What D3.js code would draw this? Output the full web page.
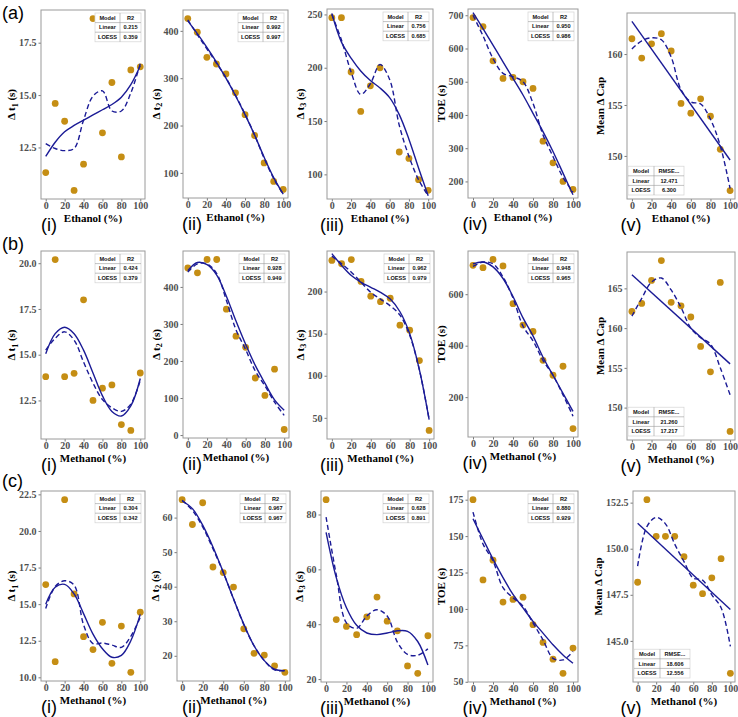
<!DOCTYPE html>
<html>
<head>
<meta charset="utf-8">
<script src="https://cdn.jsdelivr.net/npm/d3@7"></script>
<style>
  body { margin: 0; background: #fff; }
</style>
</head>
<body>
<div id="chart"></div>
<script>
// solvent share on the x axis, same for every panel
const pct = [0, 10, 20, 30, 40, 50, 60, 70, 80, 90, 100];
const xTicks = [0, 20, 40, 60, 80, 100];

// row (a): ethanol. one inner array per panel (i)..(v)
const ethPoints = [
  [11.3, 14.6, 13.75, 10.45, 11.7, 18.65, 13.2, 15.6, 12.05, 16.2, 16.35],
  [426, 397, 344, 330, 309, 269, 223, 179, 121, 82, 65],
  [247, 247, 196, 159, 183, 200, 234, 121, 115, 95, 85],
  [693, 666, 563, 510, 513, 500, 480, 321, 256, 200, 176],
  [161.5, 159.6, 161.0, 162.0, 160.3, 155.15, 154.2, 155.6, 153.9, 150.65, 146.6]
];
const ethFit = [
  [12.07, 12.75, 13.25, 13.55, 13.8, 14.05, 14.3, 14.55, 14.9, 15.5, 16.4],
  [421, 394, 365, 334, 300, 263, 223, 180, 133, 90, 55],
  [251, 224, 209, 197, 188, 181, 172, 156, 133, 106, 80],
  [708, 660, 610, 560, 510, 460, 405, 350, 290, 225, 160],
  [163.2, 149.6]
];
const ethLoess = [
  [12.68, 12.45, 12.35, 12.45, 13.8, 14.95, 15.2, 14.24, 14.24, 15.1, 16.5],
  [423, 392, 362, 332, 301, 264, 224, 180, 131, 88, 55],
  [250, 226, 196, 175, 185, 203, 189, 146, 117, 95, 80],
  [700, 638, 570, 525, 515, 500, 435, 340, 275, 212, 168],
  [160.5, 161.3, 161.6, 161.4, 159.7, 156.5, 155.3, 155.1, 153.6, 151, 146.8]
];
const ethTicks = [
  ['12.5', '15.0', '17.5'],
  ['100', '200', '300', '400'],
  ['100', '150', '200', '250'],
  ['200', '300', '400', '500', '600', '700'],
  ['150', '155', '160']
];
const ethStats = [
  ['0.215', '0.359'], ['0.992', '0.997'], ['0.756', '0.685'], ['0.950', '0.986'], ['12.471', '6.300']
];

// row (b): methanol
const methBPoints = [
  [13.8, 20.2, 13.8, 13.98, 18.0, 12.5, 13.17, 13.35, 11.18, 10.86, 14.0],
  [451, 438, 474, 474, 340, 267, 237, 154, 107, 178, 15],
  [237, 233, 238, 212, 194.5, 188, 192, 160, 154, 118, 35],
  [712, 703, 735, 710, 563, 480, 455, 343, 285, 320, 78],
  [162.1, 163.1, 166.0, 168.5, 163.25, 162.8, 161.4, 157.7, 154.5, 165.75, 147.0]
];
const methBFit = [
  [15.05, 16.15, 16.5, 16.15, 15.25, 14.0, 12.75, 11.9, 11.65, 12.2, 13.7],
  [444, 466, 460, 432, 375, 308, 245, 188, 140, 95, 67],
  [245, 231, 219, 211, 205, 199, 191, 176, 150, 107, 48],
  [718, 725, 706, 661, 591, 508, 438, 355, 285, 215, 145],
  [166.7, 155.5]
];
const methBLoess = [
  [15.25, 15.9, 16.25, 15.8, 14.6, 13.45, 12.55, 12.1, 11.9, 12.3, 13.6],
  [440, 462, 462, 436, 364, 284, 231, 173, 133, 89, 53],
  [242, 233, 223, 211, 199, 191, 183, 172, 148, 107, 48],
  [708, 725, 718, 667, 585, 476, 419, 343, 285, 209, 126],
  [161.5, 163.75, 165.8, 166.3, 164.8, 162.6, 160.0, 158.8, 158.0, 155.0, 151.6]
];
const methBTicks = [
  ['12.5', '15.0', '17.5', '20.0'],
  ['0', '100', '200', '300', '400'],
  ['50', '100', '150', '200'],
  ['200', '400', '600'],
  ['150', '155', '160', '165']
];
const methBStats = [
  ['0.424', '0.379'], ['0.928', '0.949'], ['0.962', '0.979'], ['0.948', '0.965'], ['21.260', '17.217']
];

// row (c): methanol
const methCPoints = [
  [16.34, 11.07, 22.14, 15.7, 12.78, 11.9, 13.76, 10.96, 13.5, 10.34, 14.45],
  [65.2, 58.0, 64.3, 45.7, 44.1, 39.9, 27.8, 20.7, 20.2, 17.1, 15.2],
  [85.4, 41.7, 39.2, 36.2, 42.7, 49.9, 41.1, 37.6, 24.8, 22.1, 35.8],
  [175, 119.9, 133.5, 104.7, 106.5, 108.1, 89.2, 77.0, 65.5, 55.8, 73.1],
  [148.18, 152.66, 150.67, 150.67, 150.67, 149.57, 148.02, 147.56, 148.42, 149.46, 143.24]
];
const methCFit = [
  [15.0, 16.15, 16.35, 15.7, 14.35, 12.95, 11.95, 11.37, 11.5, 12.5, 14.3],
  [64.8, 62.6, 57.8, 51.5, 44.2, 36.5, 29.2, 22.9, 18.6, 16.1, 15.7],
  [73.5, 57, 46, 39.6, 36.8, 36.2, 36.8, 37.6, 37.4, 33.7, 25.1],
  [161.9, 148, 134.2, 121.5, 110, 100.7, 91.5, 83.4, 75.4, 68.4, 62.7],
  [151.38, 146.7]
];
const methCLoess = [
  [14.7, 16.2, 16.6, 16.3, 13.6, 12.3, 12.35, 12.2, 12.05, 12.8, 14.1],
  [65, 62.1, 57.3, 51, 44.2, 36.5, 29, 22.9, 18.6, 15.9, 15.7],
  [79, 58, 40.5, 38.5, 43, 45.3, 43, 33.5, 29, 28.7, 31],
  [166.5, 144.6, 133, 114.6, 107.7, 101.9, 90.4, 78.8, 66.1, 65, 70.8],
  [149.06, 151.2, 151.7, 151.35, 150.25, 149.3, 148.4, 148.3, 147.5, 146.8, 144.7]
];
const methCTicks = [
  ['10.0', '12.5', '15.0', '17.5', '20.0', '22.5'],
  ['20', '30', '40', '50', '60'],
  ['20', '40', '60', '80'],
  ['50', '75', '100', '125', '150', '175'],
  ['145.0', '147.5', '150.0', '152.5']
];
const methCStats = [
  ['0.304', '0.342'], ['0.967', '0.967'], ['0.628', '0.891'], ['0.880', '0.929'], ['18.606', '12.556']
];

const yTitles = ['Δ t|1| (s)', 'Δ t|2| (s)', 'Δ t|3| (s)', 'TOE (s)', 'Mean Δ Cap'];
const romans = ['(i)', '(ii)', '(iii)', '(iv)', '(v)'];
const rowLetters = ['(a)', '(b)', '(c)'];
const models = ['Linear', 'LOESS'];

const rows = [
  { xTitle: 'Ethanol (%)', pts: ethPoints, fit: ethFit, loess: ethLoess, ticks: ethTicks, stats: ethStats },
  { xTitle: 'Methanol (%)', pts: methBPoints, fit: methBFit, loess: methBLoess, ticks: methBTicks, stats: methBStats },
  { xTitle: 'Methanol (%)', pts: methCPoints, fit: methCFit, loess: methCLoess, ticks: methCTicks, stats: methCStats }
];

// layout: plot frames [left, top, right, bottom] for every panel
const frames = [
  [[41, 10, 145, 199], [183, 10, 288, 198], [327, 9, 433, 199], [468, 9, 578, 198], [627, 13, 735, 199]],
  [[41, 251, 145, 439], [183, 251, 289, 438], [327, 251, 434, 439], [468, 251, 578, 437], [627, 252, 735, 440]],
  [[41, 491, 145, 681], [177, 491, 290, 681], [321, 491, 433, 682], [468, 491, 578, 682], [633, 491, 735, 682]]
];
const romanX = [49, 192, 332, 475, 631];
const letterY = [19, 250, 487];

const SERIF = '"Liberation Serif", "Times New Roman", serif';
const SANS = '"Liberation Sans", Arial, sans-serif';
const dotColor = '#c58e14';
const lineColor = '#1b1b96';

const svg = d3.select('#chart').append('svg')
  .attr('width', 738)
  .attr('height', 717)
  .style('background', '#fff');

let clipCount = 0;

const toXY = (vals) => vals.length === 2
  ? [[0, vals[0]], [100, vals[1]]]
  : vals.map((v, i) => [pct[i], v]);

function drawTable(g, tx, ty, widths, head, body) {
  const rh = 9.6;
  const tw = widths[0] + widths[1];
  const t = g.append('g').attr('transform', `translate(${tx},${ty})`);
  t.append('rect')
    .attr('width', tw).attr('height', rh * 3)
    .attr('fill', '#fff').attr('stroke', '#d4d4d4').attr('stroke-width', 0.7);
  [1, 2].forEach((i) => {
    t.append('line')
      .attr('x1', 0).attr('x2', tw).attr('y1', rh * i).attr('y2', rh * i)
      .attr('stroke', '#9a9a9a').attr('stroke-width', 0.6);
  });
  t.append('line')
    .attr('x1', widths[0]).attr('x2', widths[0]).attr('y1', 0).attr('y2', rh * 3)
    .attr('stroke', '#9a9a9a').attr('stroke-width', 0.6);
  [head].concat(body).forEach((r, i) => {
    r.forEach((s, j) => {
      t.append('text')
        .attr('x', j === 0 ? widths[0] / 2 : widths[0] + widths[1] / 2)
        .attr('y', rh * i + rh / 2 + 2)
        .attr('text-anchor', 'middle')
        .attr('font-family', SANS)
        .attr('font-size', 5.6)
        .attr('font-weight', 700)
        .attr('fill', '#111')
        .text(s);
    });
  });
}

function drawPanel(frame, col, row) {
  const [x0, y0, x1, y1] = frame;
  const pts = row.pts[col];
  const fit = row.fit[col];
  const g = svg.append('g');

  const x = d3.scaleLinear().domain([-5, 105]).range([x0, x1]);
  // straight-line fits take part in the range, as in the source plots
  const [lo, hi] = d3.extent(fit.length === 2 ? pts.concat(fit) : pts);
  const pad = (hi - lo) * 0.05;
  const y = d3.scaleLinear().domain([lo - pad, hi + pad]).range([y1, y0]);

  const clipId = 'clip' + (clipCount++);
  svg.append('clipPath').attr('id', clipId)
    .append('rect')
    .attr('x', x0).attr('y', y0).attr('width', x1 - x0).attr('height', y1 - y0);

  // axes
  const xa = g.append('g')
    .attr('transform', `translate(0,${y1})`)
    .call(d3.axisBottom(x).tickValues(xTicks).tickSize(2.5).tickPadding(0));
  const labels = row.ticks[col];
  const ya = g.append('g')
    .attr('transform', `translate(${x0},0)`)
    .call(d3.axisLeft(y).tickValues(labels.map(Number)).tickFormat((d, i) => labels[i]).tickSize(2.5).tickPadding(2));
  [xa, ya].forEach((a) => {
    a.select('.domain').remove();
    a.selectAll('line').attr('stroke', '#777');
    a.selectAll('text')
      .attr('font-family', SERIF)
      .attr('font-weight', 700)
      .attr('font-size', 10)
      .attr('fill', '#505050');
  });

  // points
  g.append('g').selectAll('circle')
    .data(pts)
    .enter().append('circle')
    .attr('cx', (d, i) => x(pct[i]))
    .attr('cy', (d) => y(d))
    .attr('r', 3.4)
    .attr('fill', dotColor);

  // fitted curves
  const line = d3.line()
    .x((d) => x(d[0]))
    .y((d) => y(d[1]))
    .curve(d3.curveCatmullRom.alpha(0.5));
  g.append('path')
    .attr('clip-path', `url(#${clipId})`)
    .attr('d', line(toXY(fit)))
    .attr('fill', 'none')
    .attr('stroke', lineColor)
    .attr('stroke-width', 1.4);
  g.append('path')
    .attr('clip-path', `url(#${clipId})`)
    .attr('d', line(toXY(row.loess[col])))
    .attr('fill', 'none')
    .attr('stroke', lineColor)
    .attr('stroke-width', 1.4)
    .attr('stroke-dasharray', '5,3');

  // frame
  g.append('rect')
    .attr('x', x0).attr('y', y0)
    .attr('width', x1 - x0).attr('height', y1 - y0)
    .attr('fill', 'none')
    .attr('stroke', '#9a9a9a')
    .attr('stroke-width', 1);

  // stats table
  const body = models.map((m, i) => [m, row.stats[col][i]]);
  if (col === 4) {
    drawTable(g, x0 + 1, y1 - 4 - 28.8, [26, 30], ['Model', 'RMSE...'], body);
  } else {
    drawTable(g, x1 - 4 - 46, y0 + 3, [25, 21], ['Model', 'R2'], body);
  }

  // axis titles
  g.append('text')
    .attr('x', (x0 + x1) / 2)
    .attr('y', y1 + 22.5)
    .attr('text-anchor', 'middle')
    .attr('font-family', SERIF)
    .attr('font-weight', 700)
    .attr('font-size', 11)
    .text(row.xTitle);

  const labelW = d3.max(ya.selectAll('text').nodes(), (n) => n.getBBox().width);
  const tx = x0 - 2.5 - 2 - labelW - 4;
  const yt = g.append('text')
    .attr('transform', `translate(${tx},${(y0 + y1) / 2}) rotate(-90)`)
    .attr('text-anchor', 'middle')
    .attr('font-family', SERIF)
    .attr('font-weight', 700)
    .attr('font-size', 11);
  const parts = yTitles[col].split('|');
  yt.append('tspan').text(parts[0]);
  if (parts.length > 1) {
    yt.append('tspan').attr('dy', 2.5).attr('font-size', 8).text(parts[1]);
    yt.append('tspan').attr('dy', -2.5).text(parts[2]);
  }

  // panel numeral
  svg.append('text')
    .attr('x', romanX[col])
    .attr('y', y1 + 32)
    .attr('text-anchor', 'middle')
    .attr('font-family', SANS)
    .attr('font-size', 18)
    .text(romans[col]);
}

rows.forEach((row, r) => {
  frames[r].forEach((frame, c) => drawPanel(frame, c, row));
  svg.append('text')
    .attr('x', 2)
    .attr('y', letterY[r])
    .attr('font-family', SANS)
    .attr('font-size', 18)
    .text(rowLetters[r]);
});
</script>
</body>
</html>
